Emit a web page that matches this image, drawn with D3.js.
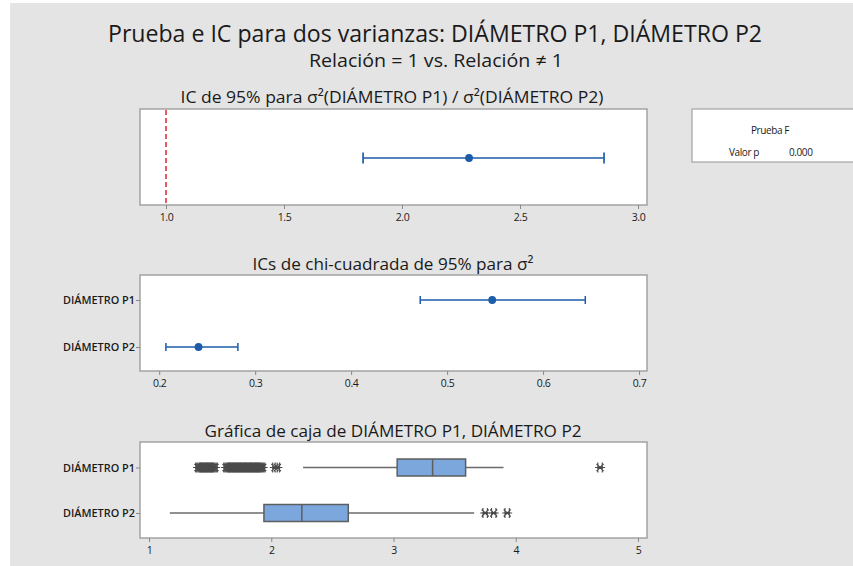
<!DOCTYPE html>
<html>
<head>
<meta charset="utf-8">
<script src="https://cdn.jsdelivr.net/npm/d3@7"></script>
<style>
  html, body { margin: 0; padding: 0; background: #ffffff; }
  svg { display: block; }
  text { font-family: "Open Sans", "Noto Sans", sans-serif; fill: #1a1a1a; }
</style>
</head>
<body>
<svg id="chart" width="853" height="566"></svg>
<script>
// ---------- DATA ----------
const mainTitle = "Prueba e IC para dos varianzas: DIÁMETRO P1, DIÁMETRO P2";
const subTitle = "Relación = 1 vs. Relación ≠ 1";
const ratioTitle = "IC de 95% para σ²(DIÁMETRO P1) / σ²(DIÁMETRO P2)";
const sigmaTitle = "ICs de chi-cuadrada de 95% para σ²";
const boxTitle = "Gráfica de caja de DIÁMETRO P1, DIÁMETRO P2";

const categories = ["DIÁMETRO P1", "DIÁMETRO P2"];

// Ratio of variances CI
const ratioLower = 1.835;
const ratioEstimate = 2.284;
const ratioUpper = 2.856;
const ratioReference = 1.0;
const ratioTicks = [1.0, 1.5, 2.0, 2.5, 3.0];

// Chi-square CIs for sigma^2
const sigmaLower = [0.472, 0.207];
const sigmaEstimate = [0.547, 0.241];
const sigmaUpper = [0.644, 0.282];
const sigmaTicks = [0.2, 0.3, 0.4, 0.5, 0.6, 0.7];

// Boxplot statistics
const boxWhiskerLow = [2.26, 1.17];
const boxQ1 = [3.03, 1.94];
const boxMedian = [3.32, 2.25];
const boxQ3 = [3.59, 2.63];
const boxWhiskerHigh = [3.90, 3.66];
const outliersP1 = [1.40, 1.41, 1.42, 1.43, 1.44, 1.45, 1.46, 1.47, 1.48, 1.49, 1.50,
                    1.51, 1.52, 1.53, 1.54,
                    1.63, 1.64, 1.65, 1.66, 1.67, 1.68, 1.69, 1.70, 1.71, 1.72, 1.73,
                    1.74, 1.75, 1.76, 1.77, 1.78, 1.79, 1.80, 1.81, 1.82, 1.83, 1.84,
                    1.85, 1.86, 1.87, 1.88, 1.89, 1.90, 1.91, 1.92, 1.93,
                    2.03, 2.05, 4.69];
const outliersP2 = [3.75, 3.82, 3.93];
const boxTicks = [1, 2, 3, 4, 5];

const testName = "Prueba F";
const pLabel = "Valor p";
const pValue = "0.000";

// ---------- DRAWING ----------
const svg = d3.select("#chart");
const W = 853, H = 566;

svg.append("rect").attr("x", 0).attr("y", 0).attr("width", W).attr("height", H).attr("fill", "#ffffff");
svg.append("rect").attr("x", 10).attr("y", 3).attr("width", W - 10).attr("height", H - 3).attr("fill", "#e4e4e4");

// fit text horizontally to the reference width (reference font is narrow)
function fitWidth(sel, target) {
  sel.attr("textLength", target).attr("lengthAdjust", "spacingAndGlyphs");
}

function title(txt, cx, y, fs, width) {
  const t = svg.append("text").attr("x", cx).attr("y", y).attr("text-anchor", "middle")
    .attr("font-size", fs).text(txt);
  fitWidth(t, width);
  return t;
}

title(mainTitle, 435, 42, 24, 654);
title(subTitle, 436, 66.5, 18.5, 254);

const PX0 = 140, PX1 = 647;
const blue = "#1c5ca8";
const frameColor = "#a3a3a3";

function panelFrame(y0, y1) {
  svg.append("rect").attr("x", PX0).attr("y", y0).attr("width", PX1 - PX0).attr("height", y1 - y0)
    .attr("fill", "#ffffff").attr("stroke", frameColor).attr("stroke-width", 1.5);
}

function bottomAxis(scale, ticks, fmt, y1) {
  const g = svg.append("g").attr("transform", `translate(0,${y1})`)
    .call(d3.axisBottom(scale).tickValues(ticks).tickFormat(fmt).tickSize(4).tickSizeOuter(0));
  g.select(".domain").remove();
  g.selectAll(".tick line").attr("stroke", "#888").attr("stroke-width", 1);
  g.selectAll(".tick text").attr("font-family", "'Open Sans', sans-serif").attr("font-size", 10.5)
    .attr("fill", "#222").attr("dy", "0.9em").attr("letter-spacing", "-0.4");
}

function leftAxis(scale, x0) {
  const g = svg.append("g").attr("transform", `translate(${x0},0)`)
    .call(d3.axisLeft(scale).tickSize(4).tickSizeOuter(0).tickPadding(1));
  g.select(".domain").remove();
  g.selectAll(".tick line").attr("stroke", "#888");
  g.selectAll(".tick text").attr("font-family", "'Open Sans', sans-serif").attr("font-size", 11.5)
    .attr("fill", "#151515").attr("font-weight", 600)
    .each(function () { fitWidth(d3.select(this), 72); });
}

// ----- Panel 1: ratio CI -----
const y1a = 109, y1b = 205;
title(ratioTitle, 392, 103, 17.2, 423);
panelFrame(y1a, y1b);
const xRatio = d3.scaleLinear().domain([0.8898, 3.038]).range([PX0, PX1]);
bottomAxis(xRatio, ratioTicks, d3.format(".1f"), y1b);

svg.append("line").attr("x1", xRatio(ratioReference)).attr("x2", xRatio(ratioReference))
  .attr("y1", y1a + 1).attr("y2", y1b - 1)
  .attr("stroke", "#e0262b").attr("stroke-width", 1.5).attr("stroke-dasharray", "5,3");

const cyRatio = (y1a + y1b) / 2 + 1;
svg.append("line").attr("x1", xRatio(ratioLower)).attr("x2", xRatio(ratioUpper))
  .attr("y1", cyRatio).attr("y2", cyRatio).attr("stroke", blue).attr("stroke-width", 1.7);
[ratioLower, ratioUpper].forEach(v => {
  svg.append("line").attr("x1", xRatio(v)).attr("x2", xRatio(v))
    .attr("y1", cyRatio - 5.5).attr("y2", cyRatio + 5.5).attr("stroke", blue).attr("stroke-width", 1.7);
});
svg.append("circle").attr("cx", xRatio(ratioEstimate)).attr("cy", cyRatio).attr("r", 3.9).attr("fill", blue);

// ----- Legend box -----
svg.append("rect").attr("x", 692).attr("y", 109).attr("width", 200).attr("height", 53)
  .attr("fill", "#ffffff").attr("stroke", frameColor).attr("stroke-width", 1.2);
svg.append("text").attr("x", 770).attr("y", 134).attr("text-anchor", "middle")
  .attr("font-size", 10).attr("letter-spacing", "-0.4").text(testName);
svg.append("text").attr("x", 729).attr("y", 156).attr("font-size", 10).attr("letter-spacing", "-0.4").text(pLabel);
svg.append("text").attr("x", 789).attr("y", 156).attr("font-size", 10).attr("letter-spacing", "-0.4").text(pValue);

// ----- Panel 2: sigma^2 CIs -----
const y2a = 275, y2b = 371;
title(sigmaTitle, 393, 270, 17.2, 281);
panelFrame(y2a, y2b);
const xSigma = d3.scaleLinear().domain([0.180, 0.7083]).range([PX0, PX1]);
const ySigma = d3.scalePoint().domain(categories).range([y2a + 25, y2b - 24]);
bottomAxis(xSigma, sigmaTicks, d3.format(".1f"), y2b);
leftAxis(ySigma, PX0);

categories.forEach((c, i) => {
  const cy = ySigma(c);
  svg.append("line").attr("x1", xSigma(sigmaLower[i])).attr("x2", xSigma(sigmaUpper[i]))
    .attr("y1", cy).attr("y2", cy).attr("stroke", blue).attr("stroke-width", 1.7);
  [sigmaLower[i], sigmaUpper[i]].forEach(v => {
    svg.append("line").attr("x1", xSigma(v)).attr("x2", xSigma(v))
      .attr("y1", cy - 4).attr("y2", cy + 4).attr("stroke", blue).attr("stroke-width", 1.5);
  });
  svg.append("circle").attr("cx", xSigma(sigmaEstimate[i])).attr("cy", cy).attr("r", 3.9).attr("fill", blue);
});

// ----- Panel 3: boxplot -----
const y3a = 442, y3b = 538;
title(boxTitle, 393, 437, 17.2, 377);
panelFrame(y3a, y3b);
const xBox = d3.scaleLinear().domain([0.926, 5.074]).range([PX0, PX1]);
const yBox = d3.scalePoint().domain(categories).range([y3a + 25.5, y3b - 25]);
bottomAxis(xBox, boxTicks, d3.format("d"), y3b);
leftAxis(yBox, PX0);

const outliers = [outliersP1, outliersP2];
const boxH = 17;
const starPath = "M-5,0H5M-2.2,-5V5M2.2,-5V5M-3.5,-3.5L3.5,3.5M-3.5,3.5L3.5,-3.5";
categories.forEach((c, i) => {
  const cy = yBox(c);
  // whiskers
  svg.append("line").attr("x1", xBox(boxWhiskerLow[i])).attr("x2", xBox(boxQ1[i]))
    .attr("y1", cy).attr("y2", cy).attr("stroke", "#6b6b6b").attr("stroke-width", 1.6);
  svg.append("line").attr("x1", xBox(boxQ3[i])).attr("x2", xBox(boxWhiskerHigh[i]))
    .attr("y1", cy).attr("y2", cy).attr("stroke", "#6b6b6b").attr("stroke-width", 1.6);
  // box
  svg.append("rect").attr("x", xBox(boxQ1[i])).attr("y", cy - boxH / 2)
    .attr("width", xBox(boxQ3[i]) - xBox(boxQ1[i])).attr("height", boxH)
    .attr("fill", "#7ba7dc").attr("stroke", "#5e5e5e").attr("stroke-width", 1.5);
  svg.append("line").attr("x1", xBox(boxMedian[i])).attr("x2", xBox(boxMedian[i]))
    .attr("y1", cy - boxH / 2).attr("y2", cy + boxH / 2).attr("stroke", "#5e5e5e").attr("stroke-width", 1.5);
  // outliers
  svg.append("g").selectAll("path").data(outliers[i]).join("path")
    .attr("transform", d => `translate(${xBox(d)},${cy})`)
    .attr("d", starPath).attr("fill", "none").attr("stroke", "#4a4a4a").attr("stroke-width", 1.1);
});
</script>
</body>
</html>
